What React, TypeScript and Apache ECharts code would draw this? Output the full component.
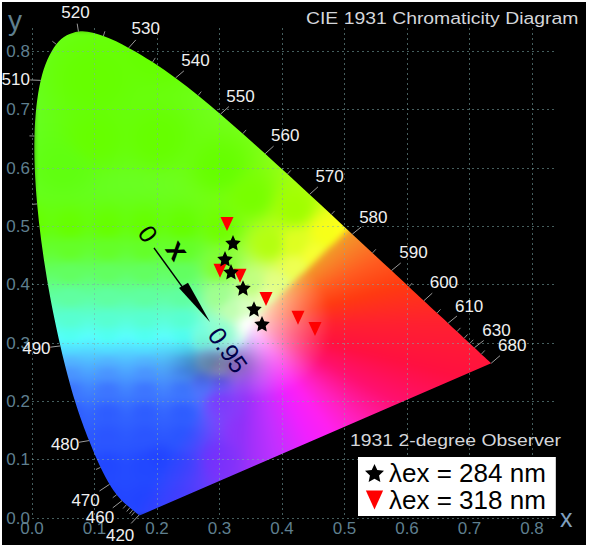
import React, { useEffect, useRef } from "react";
import * as echarts from "echarts";

// Spectral locus (CIE 1931 2-degree observer)
const LOCUS_NM = [380,400,410,420,430,440,445,450,455,460,465,470,475,480,485,490,495,500,505,510,515,520,525,530,535,540,545,550,555,560,565,570,575,580,585,590,595,600,605,610,615,620,625,630,635,640,650,660,680];
const LOCUS_X = [.1741,.1733,.1726,.1714,.1689,.1644,.1611,.1566,.1510,.1440,.1355,.1241,.1096,.0913,.0687,.0454,.0235,.0082,.0039,.0139,.0389,.0743,.1142,.1547,.1929,.2296,.2658,.3016,.3373,.3731,.4087,.4441,.4788,.5125,.5448,.5752,.6029,.6270,.6482,.6658,.6801,.6915,.7006,.7079,.7140,.7190,.7260,.7300,.7347];
const LOCUS_Y = [.0050,.0048,.0048,.0051,.0069,.0109,.0138,.0177,.0227,.0297,.0399,.0578,.0868,.1327,.2007,.2950,.4127,.5384,.6548,.7502,.8120,.8338,.8262,.8059,.7816,.7543,.7243,.6923,.6589,.6245,.5896,.5547,.5202,.4866,.4544,.4242,.3965,.3725,.3514,.3340,.3197,.3083,.2993,.2920,.2859,.2809,.2740,.2700,.2653];

const LABELLED_NM = [420,460,470,480,490,510,520,530,540,550,560,570,580,590,600,610,630,680];
const LABEL_DX = [-19,-22,-24,-24,-24,-25,-3,17,20,20,20,20,21,22,20,21,22,21];
const LABEL_DY = [20,17,16,4,3,-1,-19,-19,-17,-18,-18,-18,-17,-18,-18,-17,-17,-18];
const MINOR_NM = [440,445,450,455,465,475,500,505,515,525,535,545,555,565,575,585,595,605,615,620,625,640];

// Excitation series
const STAR_X = [.3216,.3088,.3184,.3376,.3552,.368];
const STAR_Y = [.4717,.4443,.4220,.3945,.3585,.3328];
const TRI_X = [.312,.3008,.3328,.3744,.4256,.4528];
const TRI_Y = [.504,.4237,.4151,.3756,.3431,.3242];

const AXIS_MAX = 0.84;
const STAR = "path://M50 2 L64 32.6 L97.6 36.5 L72.8 59.4 L79.4 92.5 L50 76 L20.6 92.5 L27.2 59.4 L2.4 36.5 L36 32.6Z";
const TRI = "path://M0 0 L100 0 L50 110Z";

const ROW_X = [.0, .06, .12, .18, .24];
const ROW_COLOURS: [number, string][] = [
  [.03,"2040f0"],[.09,"2044f0"],[.14,"2850f0"],[.18,"2c58f2"],[.22,"3a70f4"],[.25,"4890f8"],[.27,"50aef8"],
  [.29,"50d8f8"],[.31,"50fff0"],[.34,"58ffd0"],[.38,"60ffa0"],[.42,"62ff60"],[.46,"64ff28"],[.5,"66ff00"],
];
// other colour samples: x, y, hex
const FIELD_SAMPLES: [number, number, string][] = [
  [.1,.75,"66ff00"],[.2,.65,"66ff00"],[.3,.6,"66ff00"],[.05,.6,"60ff10"],[.3,.5,"70ff00"],[.2,.8,"66ff00"],[.1,.65,"66ff00"],
  [.35,.55,"78ff00"],[.42,.53,"a0ff00"],[.38,.47,"b0fa10"],[.42,.47,"d8f820"],[.47,.49,"f0f818"],[.5,.49,"f0f018"],
  [.45,.45,"f0f830"],[.42,.43,"e8f850"],[.39,.40,"e0fa80"],[.375,.375,"e8ffb0"],
  [.3,.2,"6a40f0"],[.3,.1,"5030f0"],[.2,.1,"2040f0"],[.34,.15,"8038f8"],[.35,.22,"9048f8"],
  [.28,.27,"80b0e0"],[.3,.26,"a0a0d8"],[.33,.26,"a080d8"],[.3,.23,"5858e8"],[.27,.23,"4868e8"],
  [.27,.31,"70f0d0"],[.3,.32,"90ffd0"],[.349,.334,"ffffff"],[.32,.36,"c0ffb0"],[.3,.38,"a0ff90"],
  [.3,.43,"80ff30"],[.35,.4,"c0ff80"],[.34,.36,"d8ffc0"],
];
// hue seen around the white point, by direction (degrees), clockwise from the 580 nm line
const FAN_ANGLE = [46,38,28,15,0,-15,-30,-45,-55,-65,-80,-95];
const FAN_COLOUR = ["f0a028","f88028","ff5c20","ff3a10","ff2030","ff1040","ff1070","ff20c0","ff20f0","f020ff","c030ff","9030f8"];
const WHITE = { x: 0.349, y: 0.334 };
const SHADE = { x: 0.295, y: 0.265, sx: 0.04, sy: 0.02, strength: 0.36 };

const hex = (c: string) => [parseInt(c.slice(0, 2), 16), parseInt(c.slice(2, 4), 16), parseInt(c.slice(4, 6), 16)];

function buildField(): string {
  const w = 525, h = 490;
  const src = document.createElement("canvas");
  src.width = w; src.height = h;
  const sc = src.getContext("2d")!;
  const img = sc.createImageData(w, h);
  const all: [number, number, string][] = [...FIELD_SAMPLES];
  ROW_COLOURS.forEach(([y, c]) => ROW_X.forEach((x) => all.push([x, y, c])));
  const pts = all.map(([x, y, c]) => [x, y, ...hex(c)]);
  const fan = FAN_COLOUR.map(hex);
  for (let j = 0; j < h; j++) for (let i = 0; i < w; i++) {
    const x = (i / w) * AXIS_MAX, y = (1 - j / h) * AXIS_MAX;
    let W = 0, r = 0, g = 0, b = 0;
    for (const p of pts) {
      const d = (p[0] - x) ** 2 + (p[1] - y) ** 2 + 1e-5;
      const v = 1 / (d * Math.sqrt(d) * Math.sqrt(Math.sqrt(d)));
      W += v; r += v * p[2]; g += v * p[3]; b += v * p[4];
    }
    r /= W; g /= W; b /= W;
    const m = 255 / Math.max(r, g, b);
    r *= m; g *= m; b *= m;
    const dx = x - WHITE.x, dy = y - WHITE.y;
    const ang = (Math.atan2(dy, dx) * 180) / Math.PI;
    if (ang <= 46 && ang > -120) {
      let a = FAN_ANGLE.length - 2;
      for (let q = 0; q < FAN_ANGLE.length - 1; q++) if (ang >= FAN_ANGLE[q + 1]) { a = q; break; }
      const t = Math.min(1, (FAN_ANGLE[a] - ang) / (FAN_ANGLE[a] - FAN_ANGLE[a + 1]));
      const rad = Math.hypot(dx, dy);
      const s = Math.min(1, rad / 0.13) ** 0.75;
      const fr = 255 + (fan[a][0] + (fan[a + 1][0] - fan[a][0]) * t - 255) * s;
      const fg = 255 + (fan[a][1] + (fan[a + 1][1] - fan[a][1]) * t - 255) * s;
      const fb = 255 + (fan[a][2] + (fan[a + 1][2] - fan[a][2]) * t - 255) * s;
      const mix = Math.max(0, Math.min(1, (ang + 120) / 30));
      r = r + (fr - r) * mix; g = g + (fg - g) * mix; b = b + (fb - b) * mix;
    }
    const sd = ((x - SHADE.x) / SHADE.sx) ** 2 + ((y - SHADE.y) / SHADE.sy) ** 2;
    const f = 1 - SHADE.strength * Math.exp(-sd / 2);
    const k = (j * w + i) * 4;
    img.data[k] = r * f; img.data[k + 1] = g * f; img.data[k + 2] = b * f; img.data[k + 3] = 255;
  }
  sc.putImageData(img, 0, 0);
  const out = document.createElement("canvas");
  out.width = w; out.height = h;
  const c = out.getContext("2d")!;
  const P = LOCUS_X.map((x, n) => [(x / AXIS_MAX) * w, (1 - LOCUS_Y[n] / AXIS_MAX) * h]);
  c.beginPath();
  c.moveTo(P[0][0], P[0][1]);
  for (let n = 0; n < P.length - 1; n++) {
    const p0 = P[Math.max(0, n - 1)], p1 = P[n], p2 = P[n + 1], p3 = P[Math.min(P.length - 1, n + 2)];
    c.bezierCurveTo(p1[0] + (p2[0] - p0[0]) / 6, p1[1] + (p2[1] - p0[1]) / 6, p2[0] - (p3[0] - p1[0]) / 6, p2[1] - (p3[1] - p1[1]) / 6, p2[0], p2[1]);
  }
  c.closePath();
  c.clip();
  c.filter = "blur(3px)";
  c.drawImage(src, 0, 0);
  c.filter = "none";
  return out.toDataURL("image/png");
}

const FONT = "Liberation Sans";
const AXIS_TXT = "#5f7f8f";
const GRID = { lineStyle: { color: "rgba(125,170,170,0.55)", width: 1, type: [2, 3] as number[] } };

export default function App() {
  const ref = useRef<HTMLDivElement>(null);
  useEffect(() => {
    const chart = echarts.init(ref.current!, undefined, { renderer: "svg" });
    const fieldImage = buildField();
    const nmIndex = (nm: number) => LOCUS_NM.indexOf(nm);
    const labelled = LABELLED_NM.map((nm, i) => [LOCUS_X[nmIndex(nm)], LOCUS_Y[nmIndex(nm)], nm, LABEL_DX[i], LABEL_DY[i]]);
    const minor = MINOR_NM.map((nm) => {
      const i = nmIndex(nm);
      return [LOCUS_X[i], LOCUS_Y[i], LOCUS_X[i - 1], LOCUS_Y[i - 1], LOCUS_X[i + 1], LOCUS_Y[i + 1]];
    });
    const axisCommon = {
      min: 0, max: AXIS_MAX, interval: 0.1, type: "value", z: 2,
      axisLine: { show: false }, axisTick: { show: false },
      splitLine: { show: true, showMaxLine: false, ...GRID },
    };
    const option: any = {
      animation: false,
      backgroundColor: "#ffffff",
      textStyle: { fontFamily: FONT },
      grid: { left: 32, right: 32, top: 28, bottom: 30, containLabel: false },
      legend: {
        orient: "vertical", left: 358, top: 457, padding: [3, 10, 3, 7], itemGap: 1, itemWidth: 19, itemHeight: 19,
        backgroundColor: "#ffffff", z: 10, selectedMode: false,
        textStyle: { color: "#000", fontSize: 26, fontFamily: FONT },
        data: [{ name: "λex = 284 nm", icon: STAR, itemStyle: { opacity: 1 } }, { name: "λex = 318 nm", icon: TRI, itemStyle: { opacity: 1 } }],
      },
      xAxis: {
        ...axisCommon, name: "x", nameLocation: "end", nameGap: 3,
        nameTextStyle: { color: "#7f9fbf", fontSize: 25, fontFamily: FONT, verticalAlign: "middle" },
        axisLabel: { color: AXIS_TXT, fontSize: 17, margin: 2, showMaxLabel: false, fontFamily: FONT, formatter: (v: number) => v.toFixed(1) },
      },
      yAxis: {
        ...axisCommon, name: "y", nameLocation: "end", nameGap: 0,
        nameTextStyle: { color: AXIS_TXT, fontSize: 28, fontFamily: FONT, align: "right", padding: [0, 10, -6, 0] },
        axisLabel: { color: AXIS_TXT, fontSize: 17, margin: 2, showMaxLabel: false, fontFamily: FONT, formatter: (v: number) => v.toFixed(1) },
      },
      graphic: [
        { type: "rect", z: -1, silent: true, shape: { x: 2, y: 2, width: 584, height: 543 }, style: { fill: "#000" } },
        { type: "text", z: 10, silent: true, x: 306, y: 10, scaleX: 1.14, style: { text: "CIE 1931 Chromaticity Diagram", fill: "#d4d6da", fontSize: 17, fontFamily: FONT } },
        { type: "text", z: 10, silent: true, x: 350, y: 432, scaleX: 1.14, style: { text: "1931 2-degree Observer", fill: "#d4d6da", fontSize: 17, fontFamily: FONT } },
      ],
      series: [
        {
          type: "custom", name: "field", z: 1, silent: true, clip: false, data: [[0, AXIS_MAX]],
          renderItem: (_p: any, api: any) => {
            const a = api.coord([0, AXIS_MAX]), b = api.coord([AXIS_MAX, 0]);
            return { type: "image", style: { image: fieldImage, x: a[0], y: a[1], width: b[0] - a[0], height: b[1] - a[1] } };
          },
        },
        {
          type: "custom", name: "wavelengths", z: 3, silent: true, clip: false, data: labelled,
          renderItem: (_p: any, api: any) => {
            const c = api.coord([api.value(0), api.value(1)]);
            const dx = api.value(3), dy = api.value(4);
            return {
              type: "group",
              children: [
                { type: "line", shape: { x1: c[0], y1: c[1], x2: c[0] + dx * 0.42, y2: c[1] + dy * 0.42 }, style: { stroke: "#9a9a9a", lineWidth: 1 } },
                { type: "text", x: c[0] + dx, y: c[1] + dy, style: { text: String(api.value(2)), fill: "#f0f0f0", fontSize: 17, fontFamily: FONT, align: "center", verticalAlign: "middle" } },
              ],
            };
          },
        },
        {
          type: "custom", name: "minorTicks", z: 3, silent: true, clip: false, data: minor,
          renderItem: (_p: any, api: any) => {
            const c = api.coord([api.value(0), api.value(1)]);
            const a = api.coord([api.value(2), api.value(3)]);
            const b = api.coord([api.value(4), api.value(5)]);
            let nx = b[1] - a[1], ny = a[0] - b[0];
            const w = api.coord([0.345, 0.335]);
            if (nx * (c[0] - w[0]) + ny * (c[1] - w[1]) < 0) { nx = -nx; ny = -ny; }
            const l = Math.hypot(nx, ny) || 1;
            return { type: "line", shape: { x1: c[0], y1: c[1], x2: c[0] + (nx / l) * 5, y2: c[1] + (ny / l) * 5 }, style: { stroke: "#8a8a8a", lineWidth: 1 } };
          },
        },
        {
          type: "custom", name: "cieArrow", z: 4, silent: true, clip: false, data: [[0.1952, 0.4631]],
          renderItem: (_p: any, api: any) => {
            const p = (x: number, y: number) => api.coord([x, y]);
            const rot = (-55 * Math.PI) / 180;
            const t = (s: string, x: number, y: number, size: number, fill: string, weight = "normal") => {
              const c = p(x, y);
              return { type: "text", x: c[0], y: c[1], rotation: rot, style: { text: s, fill, fontSize: size, fontWeight: weight, fontFamily: FONT, align: "center", verticalAlign: "middle" } };
            };
            const s0 = p(0.1952, 0.4631), s1 = p(0.2416, 0.3945);
            return {
              type: "group",
              children: [
                { type: "line", shape: { x1: s0[0], y1: s0[1], x2: s1[0], y2: s1[1] }, style: { stroke: "#000", lineWidth: 1.5 } },
                { type: "polygon", shape: { points: [p(0.2352, 0.3945), p(0.2496, 0.4031), p(0.2848, 0.3362)] }, style: { fill: "#000" } },
                t("0", 0.1856, 0.4871, 25, "#000"),
                t("x", 0.2336, 0.4597, 30, "#000", "bold"),
                t("0.95", 0.3136, 0.288, 25, "#00004a"),
              ],
            };
          },
        },
        {
          type: "scatter", name: "λex = 284 nm", z: 6, symbol: STAR, symbolSize: 15.5,
          itemStyle: { color: "#000", opacity: 1 }, data: STAR_X.map((x, i) => [x, STAR_Y[i]]),
        },
        {
          type: "scatter", name: "λex = 318 nm", z: 5, symbol: TRI, symbolSize: [13, 14],
          itemStyle: { color: "#ff0000", opacity: 1 }, data: TRI_X.map((x, i) => [x, TRI_Y[i]]),
        },
      ],
    };
    chart.setOption(option);
    return () => chart.dispose();
  }, []);
  return <div ref={ref} style={{ position: "absolute", left: 0, top: 0, width: 589, height: 548 }} />;
}
